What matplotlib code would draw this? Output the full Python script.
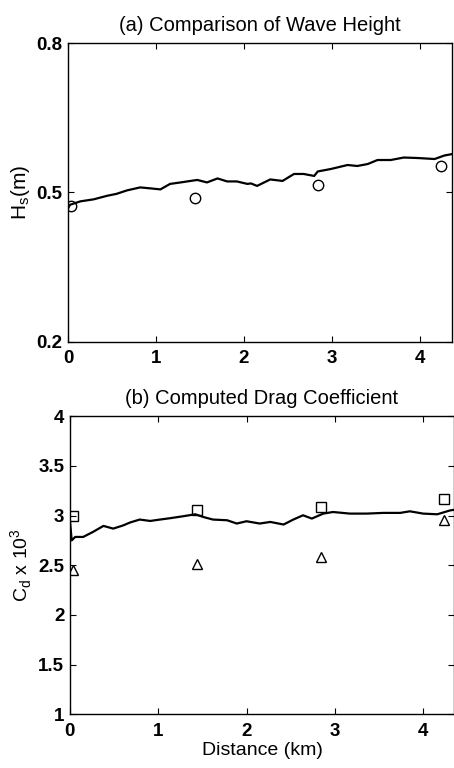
import numpy as np
import matplotlib
matplotlib.use("Agg")
import matplotlib.pyplot as plt

plt.rcParams['font.family'] = ['Liberation Sans', 'DejaVu Sans']
plt.rcParams['mathtext.fontset'] = 'custom'
plt.rcParams['mathtext.rm'] = 'Liberation Sans'

# (a) modelled wave height along the transect
hs_dist = [0.0, 0.02, 0.14, 0.29, 0.44, 0.55, 0.67, 0.82, 0.94, 1.05, 1.16, 1.28,
           1.47, 1.58, 1.70, 1.81, 1.92, 2.04, 2.08, 2.15, 2.30, 2.44, 2.57, 2.68,
           2.80, 2.84, 2.99, 3.18, 3.29, 3.41, 3.52, 3.67, 3.82, 3.98, 4.17, 4.28, 4.37]
hs_model = [0.468, 0.475, 0.482, 0.486, 0.493, 0.497, 0.504, 0.510, 0.508, 0.506, 0.517, 0.520,
            0.525, 0.520, 0.528, 0.522, 0.522, 0.517, 0.518, 0.513, 0.526, 0.523, 0.537, 0.537,
            0.533, 0.542, 0.547, 0.555, 0.553, 0.557, 0.565, 0.565, 0.570, 0.569, 0.567, 0.574, 0.577]
# measured wave height (circles)
obs_dist = [0.03, 1.44, 2.84, 4.24]
hs_obs = [0.473, 0.488, 0.515, 0.553]

# (b) computed drag coefficient (x 10^3)
cd_dist = [0.0, 0.02, 0.06, 0.15, 0.26, 0.38, 0.49, 0.60, 0.68, 0.79, 0.91, 1.02, 1.13,
           1.28, 1.42, 1.51, 1.62, 1.78, 1.89, 2.00, 2.15, 2.27, 2.42, 2.53, 2.64,
           2.74, 2.87, 2.98, 3.17, 3.36, 3.55, 3.74, 3.85, 4.00, 4.16, 4.31, 4.37]
cd_model = [2.95, 2.75, 2.785, 2.785, 2.835, 2.896, 2.869, 2.90, 2.93, 2.96, 2.946, 2.96, 2.973,
            2.993, 3.013, 2.986, 2.96, 2.953, 2.92, 2.943, 2.92, 2.936, 2.91, 2.96, 3.003,
            2.97, 3.02, 3.036, 3.02, 3.02, 3.027, 3.027, 3.043, 3.02, 3.013, 3.053, 3.06]
cd_squares = [3.0, 3.054, 3.087, 3.17]
cd_triangles = [2.45, 2.517, 2.58, 2.96]

fig = plt.figure(figsize=(4.54, 7.68), dpi=100)
ax1 = fig.add_axes([0.150, 0.555, 0.846, 0.389])
ax2 = fig.add_axes([0.154, 0.070, 0.846, 0.388])

ax1.plot(hs_dist, hs_model, color='black', lw=1.6)
ax1.plot(obs_dist, hs_obs, 'o', mfc='none', mec='black', ms=7.5, mew=1.0)
ax1.set_xlim(0, 4.37)
ax1.set_ylim(0.2, 0.8)
ax1.set_yticks([0.2, 0.5, 0.8])
ax1.set_xticks([0, 1, 2, 3, 4])
ax1.set_title('(a) Comparison of Wave Height', fontsize=14.5, pad=9)
ax1.set_ylabel(r'H$_\mathregular{s}$(m)', fontsize=15, labelpad=3)

ax2.plot(cd_dist, cd_model, color='black', lw=1.6)
ax2.plot(obs_dist, cd_squares, 's', mfc='none', mec='black', ms=6.5, mew=1.0)
ax2.plot(obs_dist, cd_triangles, '^', mfc='none', mec='black', ms=7.5, mew=1.0)
ax2.set_xlim(0, 4.35)
ax2.set_ylim(1, 4)
ax2.set_yticks([1, 1.5, 2, 2.5, 3, 3.5, 4])
ax2.set_yticklabels(['1', '1.5', '2', '2.5', '3', '3.5', '4'])
ax2.set_xticks([0, 1, 2, 3, 4])
ax2.set_title('(b) Computed Drag Coefficient', fontsize=14.5, pad=9)
ax2.set_ylabel(r'C$_\mathregular{d}$ x 10$^\mathregular{3}$', fontsize=14, labelpad=3)
ax2.set_xlabel('Distance (km)', fontsize=14, labelpad=2)

for ax in (ax1, ax2):
    ax.tick_params(direction='in', top=True, right=True, length=4, width=0.8,
                   labelsize=13.5)
    ax.tick_params(axis='x', pad=6)
    ax.tick_params(axis='y', pad=4)
    for lab in ax.get_xticklabels() + ax.get_yticklabels():
        lab.set_fontweight('bold')
    for s in ax.spines.values():
        s.set_linewidth(1.0)

fig.savefig('out.png', dpi=100)
